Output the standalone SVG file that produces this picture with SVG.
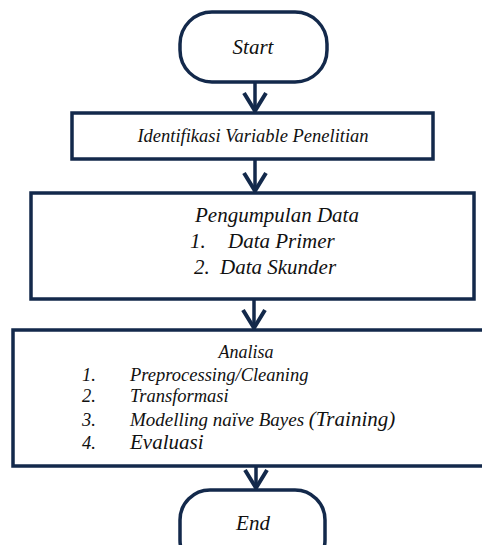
<svg xmlns="http://www.w3.org/2000/svg" width="482" height="545" viewBox="0 0 482 545">
  <style>
    .shape { fill: #ffffff; stroke: #13294b; stroke-width: 3.5; }
    .conn { fill: none; stroke: #13294b; stroke-width: 3.5; }
    .t { font-family: 'Liberation Serif', 'Times New Roman', Times, 'DejaVu Serif', serif; font-style: italic; fill: #111111; }
  </style>
  <defs>
    <marker id="chev" markerUnits="userSpaceOnUse" markerWidth="40" markerHeight="40" refX="0" refY="0" orient="auto" overflow="visible">
      <path d="M-18,-11 L0,0 L-18,11" fill="none" stroke="#13294b" stroke-width="4" stroke-linejoin="miter"/>
    </marker>
  </defs>
  <rect width="482" height="545" fill="#ffffff"/>

  <g id="connectors">
    <line class="conn" x1="255" y1="82" x2="255" y2="111" marker-end="url(#chev)"/>
    <line class="conn" x1="255" y1="159" x2="255" y2="191" marker-end="url(#chev)"/>
    <line class="conn" x1="254" y1="299" x2="254" y2="328" marker-end="url(#chev)"/>
    <line class="conn" x1="256" y1="466" x2="256" y2="488" marker-end="url(#chev)"/>
  </g>

  <g id="start">
    <rect class="shape" x="180" y="12" width="147" height="70" rx="32" ry="32"/>
    <text class="t" x="253" y="54" font-size="21" text-anchor="middle">Start</text>
  </g>

  <g id="identifikasi">
    <rect class="shape" x="72" y="113" width="361" height="46"/>
    <text class="t" x="253" y="142" font-size="18.5" text-anchor="middle">Identifikasi Variable Penelitian</text>
  </g>

  <g id="pengumpulan">
    <rect class="shape" x="31" y="193" width="443" height="106"/>
    <text class="t" x="277" y="222" font-size="21" text-anchor="middle">Pengumpulan Data</text>
    <text class="t" x="190" y="248" font-size="21">1.</text>
    <text class="t" x="228" y="248" font-size="21">Data Primer</text>
    <text class="t" x="194" y="274" font-size="21">2.</text>
    <text class="t" x="220" y="274" font-size="21">Data Skunder</text>
  </g>

  <g id="analisa">
    <rect class="shape" x="13" y="330" width="490" height="136"/>
    <text class="t" x="246" y="358" font-size="18" text-anchor="middle">Analisa</text>
    <text class="t" x="82" y="381" font-size="18.5">1.</text>
    <text class="t" x="130" y="381" font-size="18.5">Preprocessing/Cleaning</text>
    <text class="t" x="82" y="402" font-size="18.5">2.</text>
    <text class="t" x="130" y="402" font-size="18.5">Transformasi</text>
    <text class="t" x="82" y="426" font-size="18.5">3.</text>
    <text class="t" x="130" y="426" font-size="19">Modelling naïve Bayes <tspan font-size="21">(Training)</tspan></text>
    <text class="t" x="82" y="449" font-size="18.5">4.</text>
    <text class="t" x="130" y="449" font-size="21">Evaluasi</text>
  </g>

  <g id="end">
    <rect class="shape" x="180" y="490" width="145" height="80" rx="30" ry="30"/>
    <text class="t" x="253" y="530" font-size="21" text-anchor="middle">End</text>
  </g>
</svg>
